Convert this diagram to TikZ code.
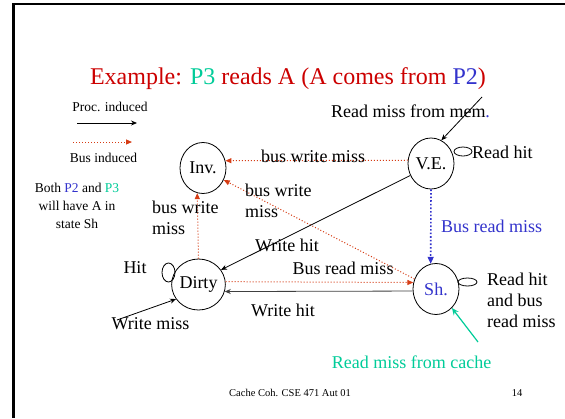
\documentclass[tikz,border=0pt]{standalone}
\usepackage{fontspec}
\setmainfont{Liberation Serif}
\usetikzlibrary{arrows.meta,shapes.geometric}
\definecolor{ttl}{RGB}{204,0,0}
\definecolor{tgreen}{RGB}{0,204,153}
\definecolor{tblue}{RGB}{51,51,204}
\definecolor{busred}{RGB}{214,60,20}
\begin{document}
\begin{tikzpicture}[x=1pt,y=-1pt,
  state/.style={ellipse,draw,line width=0.8pt,minimum width=46pt,minimum height=51pt,inner sep=0pt,font=\fontsize{18}{21}\selectfont},
  lbl/.style={inner sep=0pt,font=\fontsize{18}{21}\selectfont},
  sml/.style={inner sep=0pt,font=\fontsize{13.5}{18}\selectfont},
  foot/.style={inner sep=0pt,font=\fontsize{10.5}{12}\selectfont},
  proc/.style={draw,line width=0.8pt,-{Stealth[length=6pt,width=5pt]}},
  bus/.style={draw=busred,line width=1pt,dotted,-{Triangle[length=6pt,width=5pt,fill=busred]}},
  busblue/.style={draw=tblue,line width=1.6pt,dotted,-{Triangle[length=7pt,width=6pt,fill=tblue]}},
  cache/.style={draw=tgreen,line width=1.2pt,-{Stealth[length=7pt,width=6pt]}},
  loopy/.style={draw,ellipse,line width=0.8pt,inner sep=0pt}
]
\useasboundingbox (0,0) rectangle (565,418);
\fill[white] (0,0) rectangle (565,418);
% slide frame
\draw[line width=2.5pt] (565,4) -- (13.5,4) -- (13.5,418);

% title
\node[anchor=base,inner sep=0pt,font=\fontsize{24}{28}\selectfont,text=ttl] (title) at (288,84)
  {Example: \textcolor{tgreen}{P3} reads A (A comes from \textcolor{tblue}{P2})};

% legend
\node[sml] (proclbl) at (110,107) {Proc. induced};
\coordinate (pa) at (77,123);
\coordinate (pb) at (137,123);
\draw[proc] (pa) -- (pb);
\coordinate (ba) at (73,142);
\coordinate (bb) at (132,142);
\draw[bus] (ba) -- (bb);
\node[sml] (buslbl) at (103.5,158) {Bus induced};
\node[sml,align=center] (note) at (77,206) {Both \textcolor{tblue}{P2} and \textcolor{tgreen}{P3}\\will have A in\\state Sh};

% states
\node[state] (inv) at (203,168) {Inv.};
\node[state] (ve) at (431,163.5) {V.E.};
\node[state,text=tblue] (sh) at (436,289) {Sh.};
\node[state] (dirty) at (198.5,284.5) {Dirty};

% self loops
\node[loopy,minimum width=18pt,minimum height=9pt] (veloop) at (463,151.5) {};
\node[loopy,minimum width=13pt,minimum height=19pt] (dloop) at (168.5,272.5) {};
\node[loopy,minimum width=19pt,minimum height=8pt] (shloop) at (467.5,282) {};

% transitions
\draw[bus] (ve.172) -- (inv.18);
\node[lbl] (l1) at (313,156) {bus write miss};

\draw[bus] (sh.155) -- (inv.-30);
\node[lbl,align=left,anchor=west] (l2) at (245,200.5) {bus write\\miss};

\draw[bus] (dirty.90) -- (inv.257);
\node[lbl,align=left,anchor=west] (l3) at (152,218) {bus write\\miss};

\draw[proc] (ve.210) -- (dirty.33);
\node[lbl] (l4) at (287,245) {Write hit};

\draw[bus] (dirty.6) -- (sh.164);
\node[lbl] (l5) at (343,268) {Bus read miss};

\draw[proc,draw=black!75] (sh.185) -- (dirty.-15);
\node[lbl] (l6) at (283,310) {Write hit};

\draw[busblue] (ve.south) -- (sh.102);
\node[lbl,anchor=west,text=tblue] (l7) at (441,226) {Bus read miss};

\node[lbl] (l8) at (135,268) {Hit};

\coordinate (wm) at (117,320);
\draw[proc] (wm) -- (dirty.213);
\node[lbl] (l9) at (150.5,324) {Write miss};

\coordinate (rm) at (482,97);
\draw[proc] (rm) -- (ve.66);
\node[lbl] (l10) at (410.5,111) {Read miss from mem\textcolor{tblue}{.}};

\node[lbl,anchor=west] (l11) at (472,152) {Read hit};
\node[lbl,anchor=west,align=left] (l12) at (487,300) {Read hit\\and bus\\read miss};

\coordinate (rc) at (478,342);
\draw[cache] (rc) -- (sh.-50);
\node[lbl,text=tgreen] (l13) at (411.5,362) {Read miss from cache};

% footer
\node[foot] (ft) at (290,393) {Cache Coh. CSE 471 Aut 01};
\node[foot] (pg) at (517,393) {14};
\end{tikzpicture}
\end{document}
